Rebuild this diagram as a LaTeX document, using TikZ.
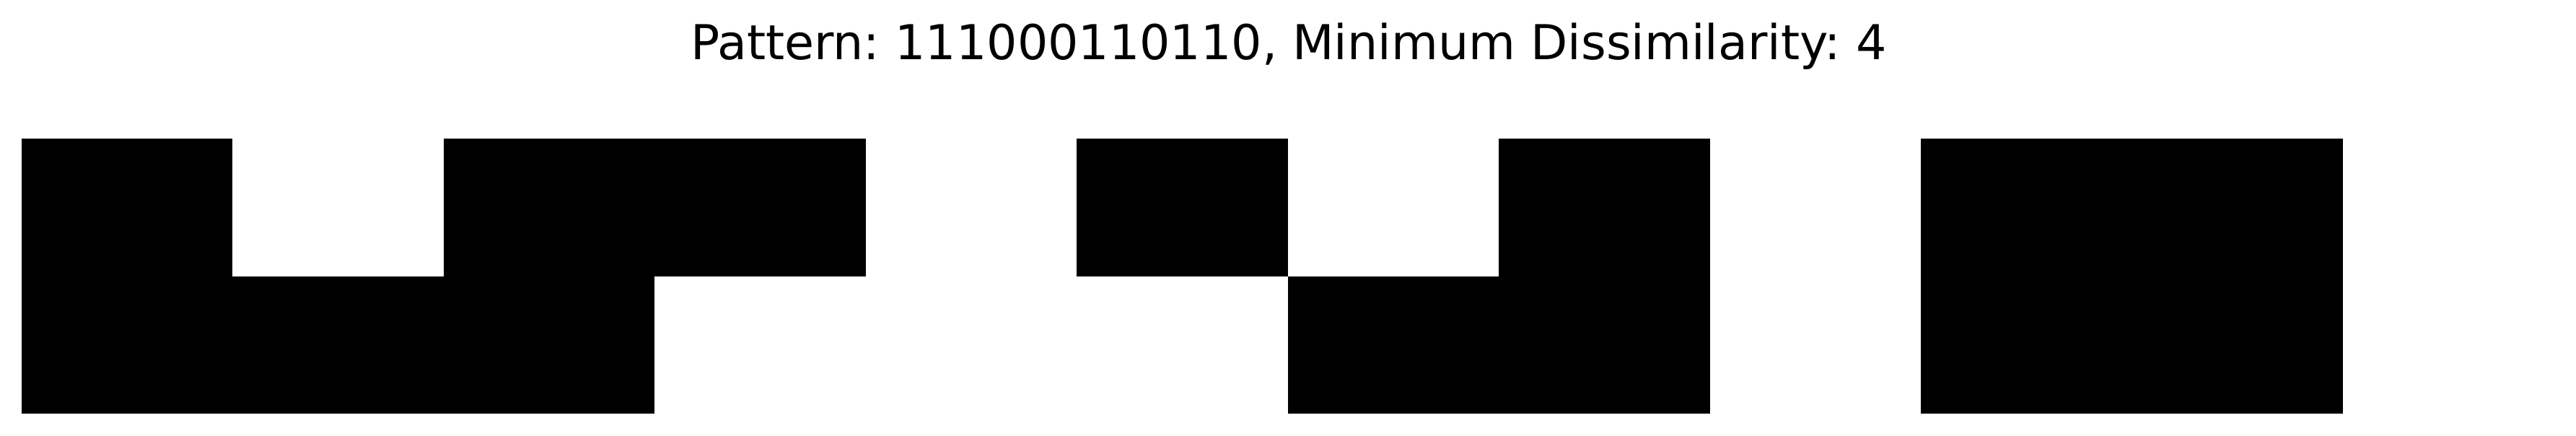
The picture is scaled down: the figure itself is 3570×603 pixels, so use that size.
\documentclass[tikz,border=0pt]{standalone}
\usepackage{fontspec}
\setmainfont{DejaVu Sans}
\usepackage{tikz}
\frenchspacing

\begin{document}
\begin{tikzpicture}[x=0.01cm, y=-0.01cm, cell/.style={fill=black}]
   \useasboundingbox (0,0) rectangle (3570,603);
   \node[anchor=base, inner sep=0pt, font=\fontsize{18.95}{23}\selectfont] (title) at (1786,82) {Pattern: 111000110110, Minimum Dissimilarity: 4};
   \foreach \c/\r in {0/0, 2/0, 3/0, 5/0, 7/0, 9/0, 10/0, 0/1, 1/1, 2/1, 6/1, 7/1, 9/1, 10/1} % black cells of the 2x12 grid
   \path[cell] (30+\c*292.45, 192+\r*190.5) rectangle ++(292.45,190.5);
\end{tikzpicture}
\end{document}
